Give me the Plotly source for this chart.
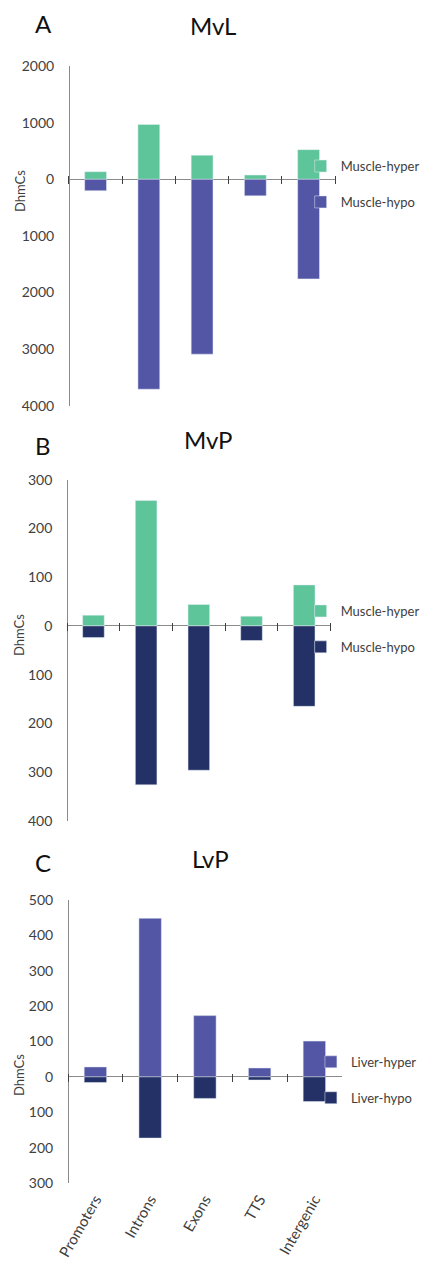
import plotly.graph_objects as go

W, H = 425, 1266

categories = ["Promoters", "Introns", "Exons", "TTS", "Intergenic"]

# Panel A: MvL
mvl_hyper = [135, 970, 426, 76, 525]
mvl_hypo = [200, 3710, 3090, 292, 1760]
# Panel B: MvP
mvp_hyper = [22, 257, 44, 20, 84]
mvp_hypo = [24, 326, 296, 30, 165]
# Panel C: LvP
lvp_hyper = [28, 448, 173, 25, 101]
lvp_hypo = [16, 173, 61, 9, 70]

ticks_A = [2000, 1000, 0, -1000, -2000, -3000, -4000]
ticks_B = [300, 200, 100, 0, -100, -200, -300, -400]
ticks_C = [500, 400, 300, 200, 100, 0, -100, -200, -300]

GREEN = "#5ec59a"
PURPLE = "#5355a5"
NAVY = "#243166"
TXT = "#404040"
AX = "#8a8a8a"
FONT = "Lato"

panels = [
    dict(x0=61, x1=346, top=58, bot=402, rng=[-4000, 2000], ticks=ticks_A,
         hyper=mvl_hyper, hypo=mvl_hypo, c1=GREEN, c2=PURPLE,
         n1="Muscle-hyper", n2="Muscle-hypo", letter="A", title="MvL",
         lx=34, ly=15, tx=215, ty=17, dy=184, legx=349, legy=144),
    dict(x0=59, x1=341, top=477, bot=823, rng=[-400, 300], ticks=ticks_B,
         hyper=mvp_hyper, hypo=mvp_hypo, c1=GREEN, c2=NAVY,
         n1="Muscle-hyper", n2="Muscle-hypo", letter="B", title="MvP",
         lx=33, ly=442, tx=210, ty=436, dy=634, legx=349, legy=595),
    dict(x0=60, x1=353, top=903, bot=1190, rng=[-300, 500], ticks=ticks_C,
         hyper=lvp_hyper, hypo=lvp_hypo, c1=PURPLE, c2=NAVY,
         n1="Liver-hyper", n2="Liver-hypo", letter="C", title="LvP",
         lx=33, ly=865, tx=213, ty=861, dy=1080, legx=360, legy=1052),
]

fig = go.Figure()
annotations = []
layout = {}
TICK_HALF = 4  # px: tick marks cross the zero line by this much on each side


def py(p):
    return 1 - p / H


for i, p in enumerate(panels):
    n = i + 1
    sx = "" if n == 1 else str(n)
    xname, yname = "x" + sx, "y" + sx
    legname = "legend" + sx
    fig.add_trace(go.Bar(x=categories, y=p["hyper"], name=p["n1"], marker_color=p["c1"],
                         xaxis=xname, yaxis=yname, legend=legname, legendgroup=f"g{n}a"))
    fig.add_trace(go.Bar(x=categories, y=[-v for v in p["hypo"]], name=p["n2"], marker_color=p["c2"],
                         xaxis=xname, yaxis=yname, legend=legname, legendgroup=f"g{n}b"))
    d0, d1 = py(p["bot"]), py(p["top"])
    r0, r1 = p["rng"]
    zero_pos = d0 + (0 - r0) / (r1 - r0) * (d1 - d0)
    xdom = [p["x0"] / W, p["x1"] / W]
    zero_px = (1 - zero_pos) * H
    xa = dict(type="category", categoryorder="array", categoryarray=categories,
              range=[-0.5, len(categories) - 0.5], showgrid=False, zeroline=False,
              domain=xdom, anchor="free", position=zero_pos + TICK_HALF / H,
              showline=False, ticks="outside", tickson="boundaries", ticklen=2 * TICK_HALF,
              tickcolor=TXT, tickwidth=1, showticklabels=False)
    if n == 3:
        xa.update(showticklabels=True, tickangle=-60,
                  tickfont=dict(family=FONT, size=15, color=TXT),
                  ticklabelstandoff=int(round(p["bot"] - zero_px)) + 6)
    layout["xaxis" + sx] = xa
    layout["yaxis" + sx] = dict(domain=[d0, d1], range=p["rng"], anchor="free", position=xdom[0],
                                showline=True, linecolor=AX, linewidth=1, showgrid=False,
                                zeroline=True, zerolinecolor=AX, zerolinewidth=1,
                                ticks="", tickvals=p["ticks"],
                                ticktext=[str(abs(t)) for t in p["ticks"]],
                                tickfont=dict(family=FONT, size=14, color=TXT),
                                ticklabelstandoff=12)
    layout[legname] = dict(x=(p["legx"] - 40) / W, y=py(p["legy"]), xanchor="left", yanchor="top",
                           font=dict(family=FONT, size=13, color=TXT), tracegroupgap=16,
                           bgcolor="rgba(0,0,0,0)")
    annotations += [
        dict(text=p["letter"], x=p["lx"] / W, y=py(p["ly"]), xref="paper", yref="paper",
             xanchor="center", yanchor="middle",
             showarrow=False, font=dict(family=FONT, size=24, color="#111111")),
        dict(text=p["title"], x=p["tx"] / W, y=py(p["ty"]), xref="paper", yref="paper",
             xanchor="center", yanchor="middle",
             showarrow=False, font=dict(family=FONT, size=24, color="#111111")),
        dict(text="DhmCs", x=8 / W, y=py(p["dy"]), xref="paper", yref="paper", textangle=-90,
             xanchor="center", yanchor="middle",
             showarrow=False, font=dict(family=FONT, size=13, color=TXT)),
    ]

fig.update_layout(
    width=W, height=H, margin=dict(l=0, r=0, t=0, b=0),
    paper_bgcolor="white", plot_bgcolor="white",
    barmode="relative", bargap=0.59,
    annotations=annotations, **layout,
)

fig.write_html("out.html", post_script="document.body.style.margin='0';")
